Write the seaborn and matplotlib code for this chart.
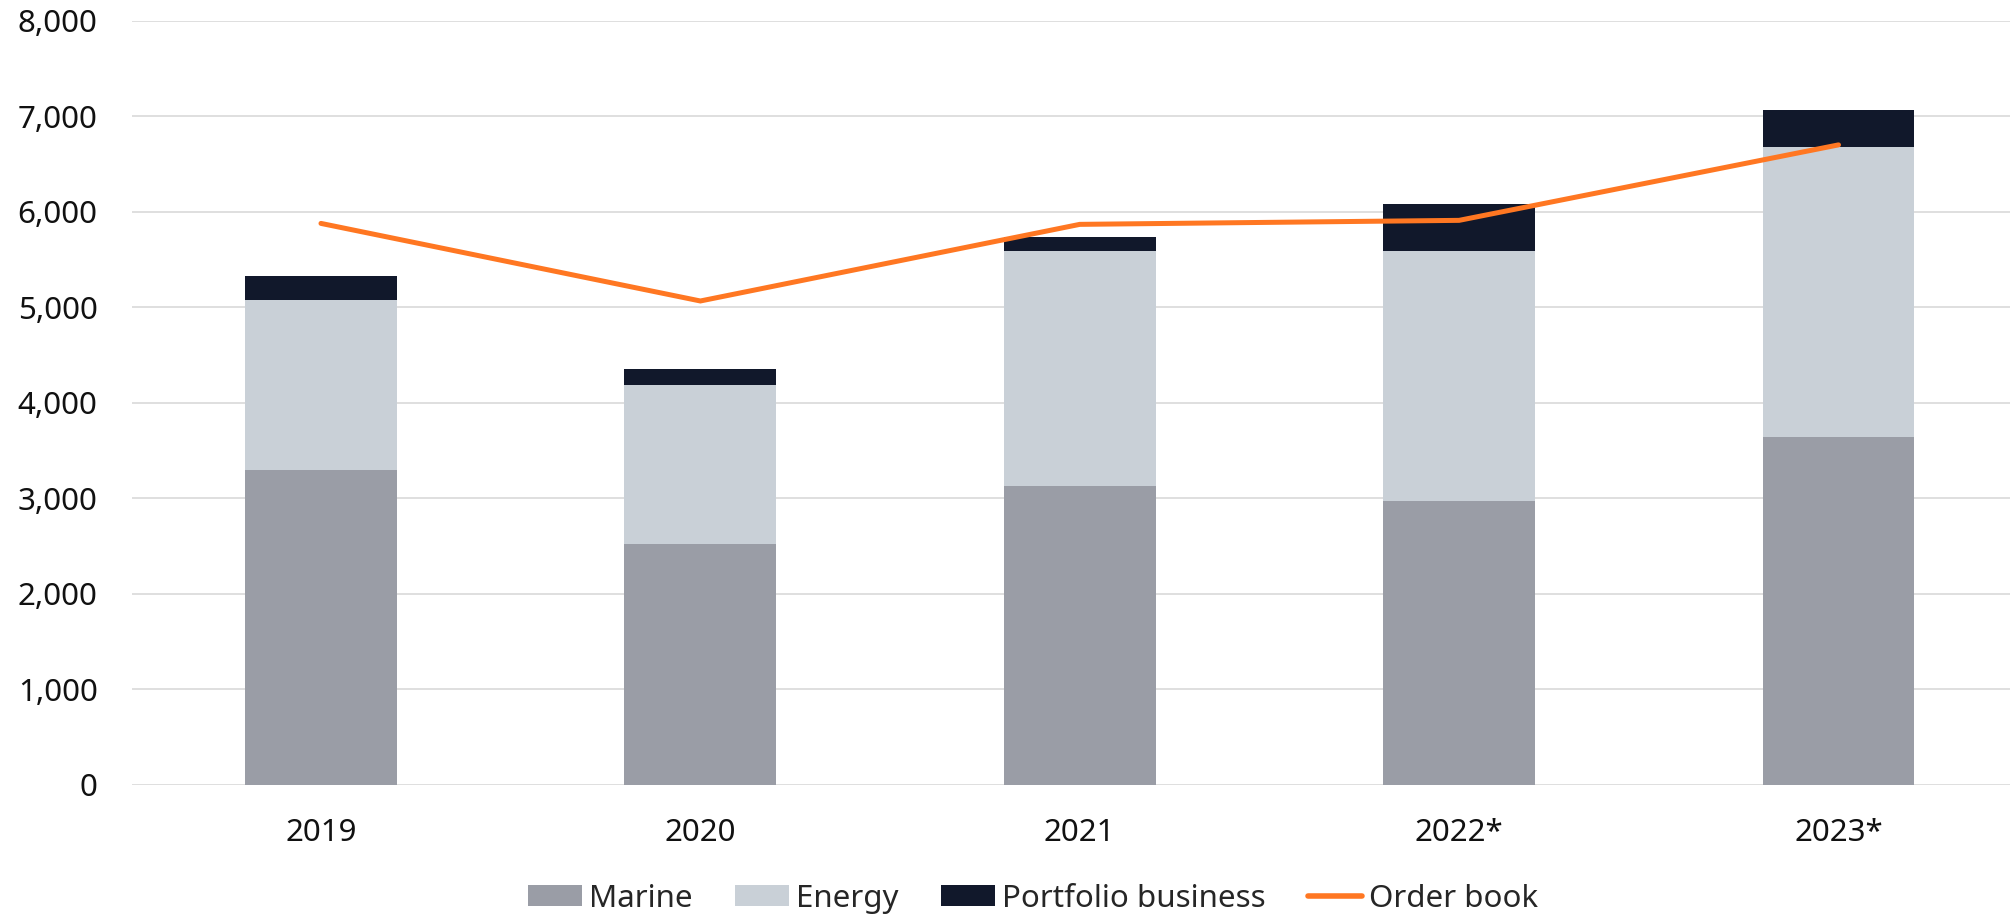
import numpy as np
import pandas as pd
import matplotlib
matplotlib.use("Agg")
import matplotlib.pyplot as plt
from matplotlib.patches import Patch
from matplotlib.lines import Line2D
from matplotlib.ticker import FuncFormatter
import seaborn as sns

# ---- data ----
years = ["2019", "2020", "2021", "2022*", "2023*"]
marine = [3300, 2527, 3132, 2968, 3638]
energy = [1780, 1662, 2452, 2619, 3042]
portfolio = [245, 164, 147, 491, 387]
order_book = [5878, 5066, 5868, 5910, 6700]

series_names = ["Marine", "Energy", "Portfolio business"]
colors = ["#9a9da6", "#c9d0d7", "#11182b"]
line_color = "#ff7722"

sns.set_theme(style="white")
plt.rcParams["font.family"] = ["Noto Sans", "DejaVu Sans"]

fig = plt.figure(figsize=(20.10, 9.15), dpi=100)
ax = fig.add_axes([0.0655, 0.1421, 0.9345, 0.8353])

df = pd.DataFrame({"year": years, "Marine": marine, "Energy": energy,
                   "Portfolio business": portfolio})
bottom = np.zeros(len(years))
for name, col in zip(series_names, colors):
    sns.barplot(data=df, x="year", y=name, order=years, color=col,
                bottom=bottom, width=0.4, ax=ax, saturation=1,
                edgecolor="none", linewidth=0, zorder=3)
    bottom = bottom + df[name].to_numpy()

xpos = np.arange(len(years))
sns.lineplot(x=xpos, y=order_book, color=line_color, linewidth=3.6, ax=ax,
             zorder=4, solid_capstyle="round", solid_joinstyle="miter")

ax.set_ylim(0, 8000)
ax.set_xlim(-0.499, 4.452)
ax.set_yticks(np.arange(0, 8001, 1000))
ax.yaxis.set_major_formatter(FuncFormatter(lambda v, p: f"{int(v):,}"))
ax.set_xticks(xpos)
ax.set_xticklabels(years)
ax.set_xlabel("")
ax.set_ylabel("")

ax.grid(axis="y", color="#d9d9d9", linewidth=1.2, zorder=0)
ax.grid(axis="x", visible=False)
ax.set_axisbelow(True)
for s in ax.spines.values():
    s.set_visible(False)
ax.tick_params(axis="y", length=0, pad=24.5, labelsize=22.5, labelcolor="#111111")
ax.tick_params(axis="x", length=0, pad=24, labelsize=22.5, labelcolor="#111111")

handles = [Patch(facecolor=c, edgecolor="none") for c in colors]
handles.append(Line2D([0], [0], color=line_color, linewidth=4,
                      solid_capstyle="round"))
labels = series_names + ["Order book"]
fig.legend(handles, labels, loc="center", bbox_to_anchor=(0.514, 0.018),
           ncol=4, frameon=False, fontsize=22.5, handlelength=1.7,
           handleheight=0.62, handletextpad=0.23, columnspacing=1.38,
           borderpad=0, borderaxespad=0)

fig.savefig("out.png", dpi=100, facecolor="white")
